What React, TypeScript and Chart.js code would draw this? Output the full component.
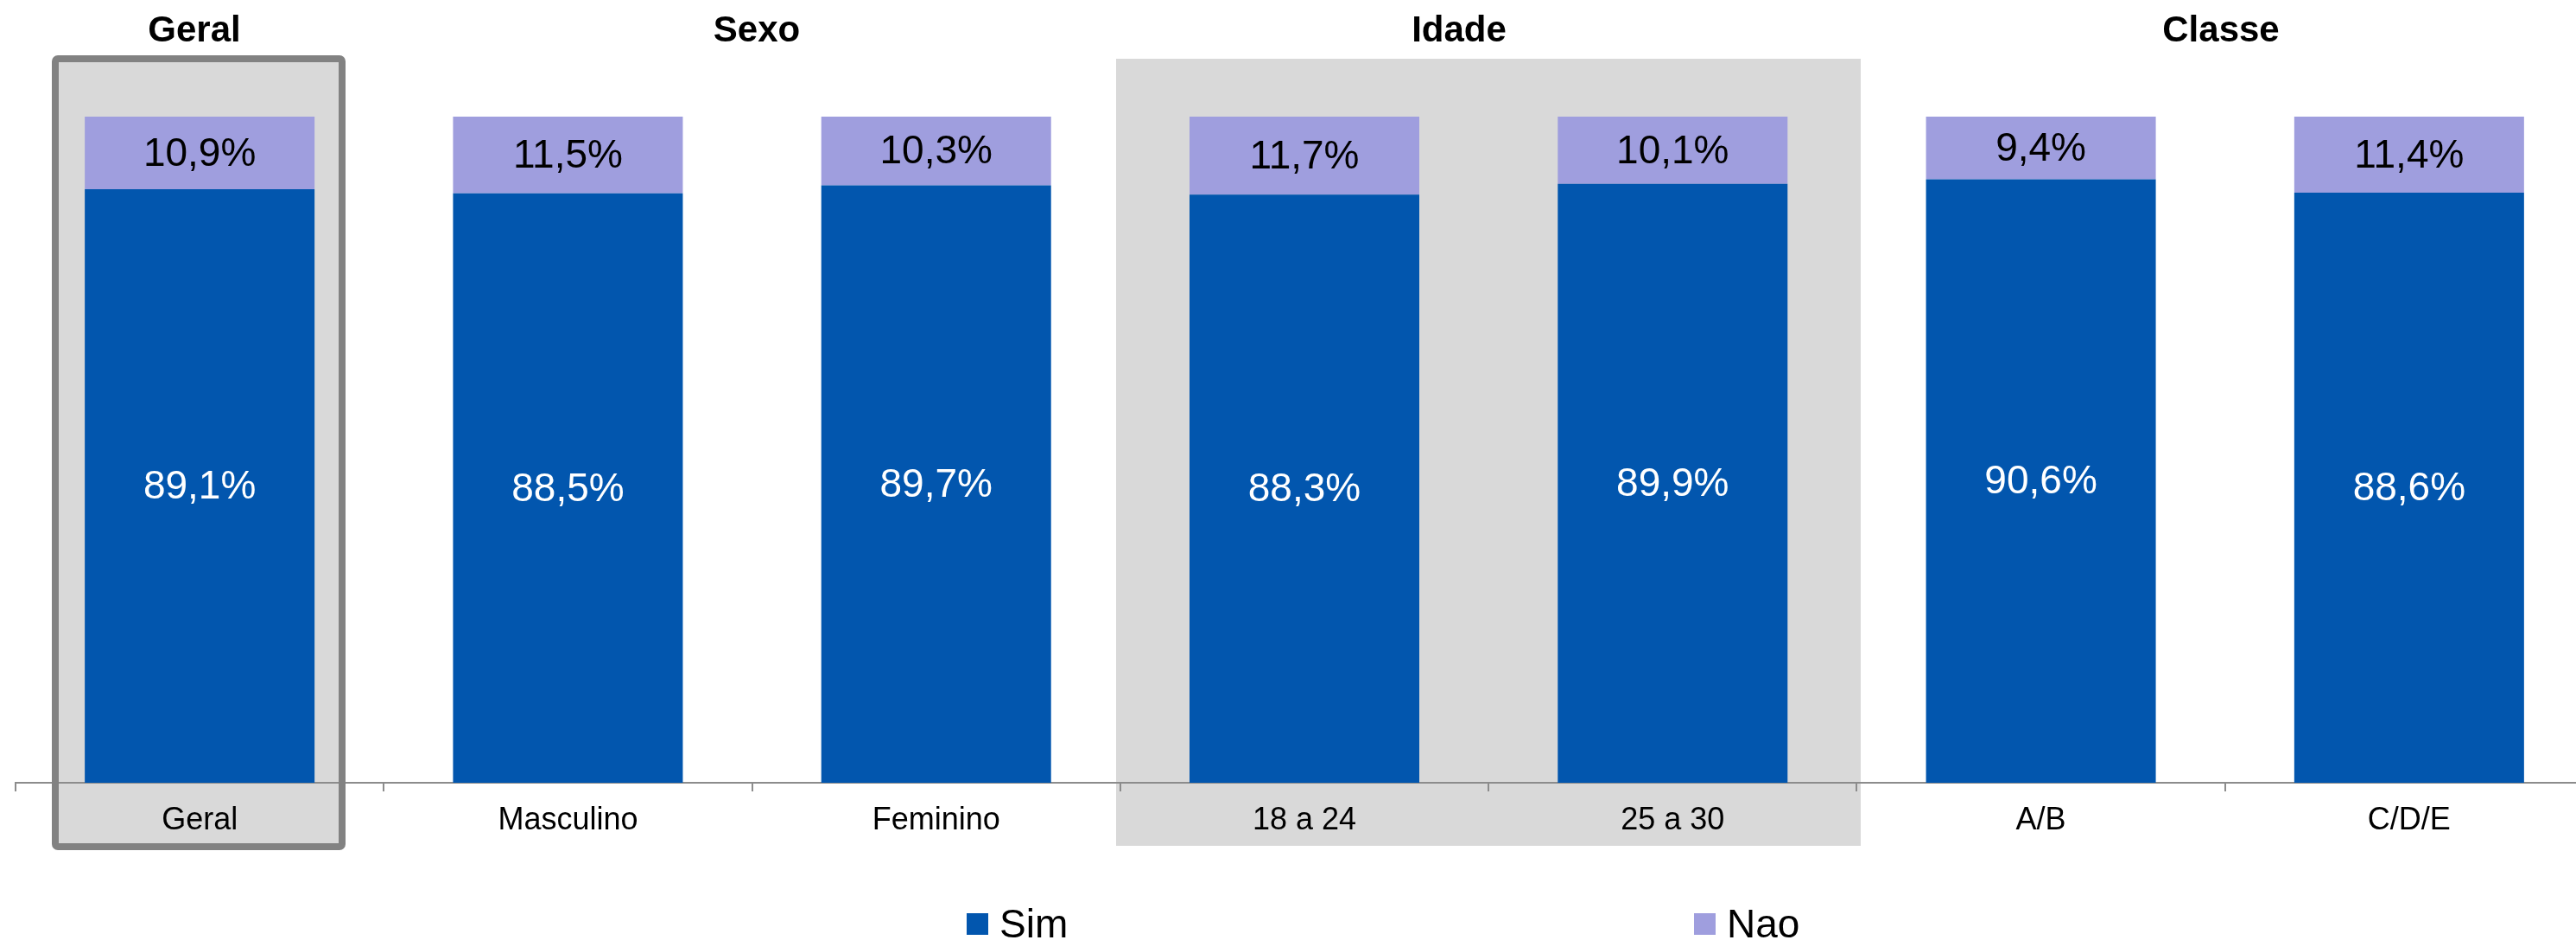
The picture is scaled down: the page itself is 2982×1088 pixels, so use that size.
import React, { useEffect, useRef } from "react";
import { Chart, registerables } from "chart.js";

Chart.register(...registerables);

const categories = ["Geral", "Masculino", "Feminino", "18 a 24", "25 a 30", "A/B", "C/D/E"];
const simValues = [89.1, 88.5, 89.7, 88.3, 89.9, 90.6, 88.6];
const naoValues = [10.9, 11.5, 10.3, 11.7, 10.1, 9.4, 11.4];
const seriesNames = ["Sim", "Nao"];
const groupTitles = ["Geral", "Sexo", "Idade", "Classe"];

const FONT = "'Liberation Sans', Arial, sans-serif";
const SIM_COLOR = "#0256ae";
const NAO_COLOR = "#9f9ede";
const GREY = "#d9d9d9";

const fmt = (v: number) => v.toFixed(1).replace(".", ",") + "%";

const backgroundPlugin = {
  id: "bgBoxes",
  beforeDraw(chart: any) {
    const ctx = chart.ctx;
    ctx.save();
    ctx.fillStyle = GREY;
    // Idade highlight
    ctx.fillRect(1292, 68, 2154 - 1292, 979 - 68);
    // Geral box fill
    ctx.fillRect(64, 68, 396 - 64, 980 - 68);
    ctx.restore();
  },
  afterDraw(chart: any) {
    const ctx = chart.ctx;
    ctx.save();
    // Geral box border
    ctx.strokeStyle = "#828282";
    ctx.lineWidth = 8;
    ctx.lineJoin = "round";
    ctx.beginPath();
    if (ctx.roundRect) ctx.roundRect(64, 68, 396 - 64, 980 - 68, 3);
    else ctx.rect(64, 68, 396 - 64, 980 - 68);
    ctx.stroke();

    // group titles
    const titleX = [225, 876, 1689, 2571];
    ctx.fillStyle = "#000";
    ctx.font = `bold 42px ${FONT}`;
    ctx.textAlign = "center";
    ctx.textBaseline = "alphabetic";
    groupTitles.forEach((t, i) => ctx.fillText(t, titleX[i], 48));

    // legend
    const legendBoxX = [1119, 1961];
    ctx.font = `46px ${FONT}`;
    ctx.textAlign = "left";
    chart.data.datasets.forEach((ds: any, i: number) => {
      ctx.fillStyle = ds.backgroundColor;
      ctx.fillRect(legendBoxX[i], 1057, 25, 25);
      ctx.fillStyle = "#000";
      ctx.fillText(ds.label, legendBoxX[i] + 38, 1085);
    });
    ctx.restore();
  },
};

const labelPlugin = {
  id: "segLabels",
  afterDatasetsDraw(chart: any) {
    const ctx = chart.ctx;
    ctx.save();
    ctx.font = `46px ${FONT}`;
    ctx.textAlign = "center";
    ctx.textBaseline = "middle";
    chart.data.datasets.forEach((ds: any, di: number) => {
      const meta = chart.getDatasetMeta(di);
      meta.data.forEach((bar: any, i: number) => {
        const { x, y, base } = bar.getProps(["x", "y", "base"], true);
        ctx.fillStyle = di === 0 ? "#ffffff" : "#000000";
        ctx.fillText(fmt(ds.data[i]), x, (y + base) / 2 + 2);
      });
    });
    ctx.restore();
  },
};

export default function App() {
  const ref = useRef<HTMLCanvasElement | null>(null);

  useEffect(() => {
    if (!ref.current) return;
    const chart = new Chart(ref.current, {
      type: "bar",
      data: {
        labels: categories,
        datasets: [
          { label: seriesNames[0], data: simValues, backgroundColor: SIM_COLOR, borderWidth: 0 },
          { label: seriesNames[1], data: naoValues, backgroundColor: NAO_COLOR, borderWidth: 0 },
        ],
      },
      options: {
        responsive: false,
        animation: false,
        devicePixelRatio: 1,
        datasets: { bar: { categoryPercentage: 1, barPercentage: 0.624 } },
        layout: { padding: { top: 135, left: 18, right: 0, bottom: 0 } },
        plugins: { legend: { display: false }, tooltip: { enabled: false } },
        scales: {
          x: {
            stacked: true,
            offset: true,
            grid: {
              offset: true,
              drawOnChartArea: false,
              drawTicks: true,
              tickLength: 10,
              color: "#8c8c8c",
              lineWidth: 2,
            },
            border: { display: true, color: "#8c8c8c", width: 2 },
            ticks: {
              color: "#000",
              font: { size: 36, family: FONT },
              padding: 12,
              maxRotation: 0,
              autoSkip: false,
            },
            afterFit: (s: any) => {
              s.height = 182;
            },
          },
          y: { stacked: true, min: 0, max: 100, display: false },
        },
      } as any,
      plugins: [backgroundPlugin, labelPlugin],
    });
    return () => chart.destroy();
  }, []);

  return (
    <div
      style={{
        position: "fixed",
        left: 0,
        top: 0,
        width: 2982,
        height: 1088,
        overflow: "hidden",
        background: "#fff",
      }}
    >
      <canvas ref={ref} width={3002} height={1088} style={{ width: 3002, height: 1088, display: "block" }} />
    </div>
  );
}
